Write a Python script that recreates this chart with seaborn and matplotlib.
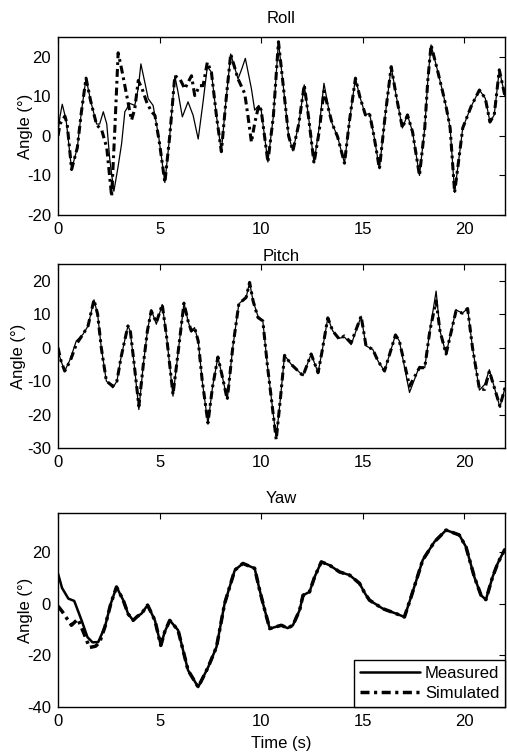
import numpy as np
import pandas as pd
import matplotlib
matplotlib.use("Agg")
import matplotlib.pyplot as plt
import seaborn as sns

# ---------------- data ----------------
# Roll
roll_meas_t = [0, 0.1, 0.21, 0.4, 0.67, 0.95, 1.15, 1.38, 1.6, 1.9, 2.05, 2.23, 2.4, 2.55, 2.75, 2.95, 3.13, 3.29, 3.54, 3.78, 3.95, 4.08, 4.27, 4.44, 4.68, 4.95, 5.26, 5.5, 5.75, 5.91, 6.12, 6.4, 6.65, 6.9, 7.14, 7.35, 7.55, 7.8, 8.04, 8.25, 8.5, 8.86, 9.05, 9.22, 9.52, 9.68, 9.88, 10.0, 10.33, 10.6, 10.85, 11.1, 11.35, 11.56, 11.85, 12.12, 12.35, 12.6, 12.85, 13.09, 13.35, 13.5, 13.76, 14.1, 14.35, 14.64, 14.85, 15.13, 15.33, 15.55, 15.82, 16.1, 16.4, 16.65, 16.95, 17.2, 17.45, 17.79, 18.05, 18.2, 18.36, 18.69, 18.93, 19.1, 19.3, 19.52, 19.75, 19.92, 20.33, 20.74, 21.03, 21.26, 21.47, 21.72, 22.0]
roll_meas_v = [1, 5, 8, 4, -8.5, -3, 6, 14.6, 9, 3, 3, 6.1, 3, -6, -14, -8, -2, 6.1, 8.2, 7.7, 12, 18.2, 13.6, 9.4, 7.7, 0, -11.8, 0, 15.2, 11, 4.8, 8.6, 5.2, -0.8, 8.6, 17.5, 16.1, 5, -4, 8, 20.7, 14.4, 17, 19.6, 11.9, 6.5, 7.7, 6.5, -6.6, 5, 23.8, 12, 0, -3.8, 3, 12.9, 4, -6.9, 2, 13.3, 6, 3, -0.2, -6.9, 4, 14.6, 10, 5.3, 5.7, 0, -8.3, 5, 17.5, 10, 2, 5.3, 1, -10, 2, 14, 23, 16.3, 11.2, 7.4, 2, -14.3, -5, 2, 7.4, 11.6, 9.5, 3.5, 5.3, 16.7, 10]
roll_sim_t = [0, 0.1, 0.34, 0.45, 0.67, 0.95, 1.15, 1.38, 1.6, 1.9, 2.15, 2.4, 2.64, 2.8, 2.96, 3.13, 3.29, 3.54, 3.62, 3.78, 3.95, 4.14, 4.36, 4.6, 4.77, 5.0, 5.26, 5.5, 5.75, 6.0, 6.24, 6.57, 6.73, 6.98, 7.14, 7.35, 7.55, 7.8, 8.04, 8.25, 8.5, 8.86, 9.19, 9.35, 9.52, 9.68, 9.88, 10.0, 10.33, 10.6, 10.85, 11.1, 11.35, 11.56, 11.85, 12.12, 12.35, 12.6, 12.85, 13.09, 13.35, 13.5, 13.76, 14.1, 14.35, 14.64, 14.85, 15.13, 15.33, 15.55, 15.82, 16.1, 16.4, 16.65, 16.95, 17.2, 17.45, 17.79, 18.05, 18.2, 18.36, 18.69, 18.93, 19.1, 19.3, 19.52, 19.75, 19.92, 20.33, 20.74, 21.03, 21.26, 21.47, 21.72, 22.0]
roll_sim_v = [0, 3, 5, 3, -8.5, -3, 6, 14.6, 9, 2.8, 1.5, -3, -15.3, 2, 21, 16.9, 12.7, 6, 4, 6.9, 14, 11.9, 8.6, 6.1, 5.2, -2, -11.8, 0, 15.2, 14.4, 11.9, 15.2, 10.2, 12.7, 12.7, 18.6, 16.1, 5, -4, 8, 20.7, 14.4, 10.7, 5, -1.6, 3.2, 7.7, 6.5, -6.6, 5, 23.8, 12, 0, -3.8, 3, 12.9, 4, -6.9, 1, 11.3, 6, 3, -0.2, -6.9, 4, 14.6, 10, 5.3, 5.7, 0, -8.3, 5, 17.5, 10, 2, 5.3, 1, -10, 2, 14, 23, 16.3, 11.2, 7.4, 2, -14.3, -5, 2, 7.4, 11.6, 9.5, 3.5, 5.3, 16.7, 10]

# Pitch
pitch_t = [0, 0.15, 0.33, 0.6, 0.9, 1.23, 1.48, 1.77, 1.95, 2.13, 2.38, 2.7, 2.9, 3.1, 3.44, 3.55, 3.75, 3.98, 4.2, 4.4, 4.59, 4.84, 5.13, 5.35, 5.66, 5.9, 6.2, 6.4, 6.56, 6.72, 6.9, 7.1, 7.38, 7.6, 7.87, 8.1, 8.33, 8.6, 8.9, 9.26, 9.43, 9.6, 9.84, 10.08, 10.3, 10.74, 10.95, 11.15, 11.48, 12.06, 12.46, 12.8, 13.0, 13.28, 13.52, 13.85, 14.09, 14.43, 14.92, 15.16, 15.49, 15.75, 16.07, 16.61, 16.8, 17.3, 17.79, 18.05, 18.3, 18.61, 18.8, 19.1, 19.59, 19.9, 20.16, 20.4, 20.74, 21.0, 21.23, 21.75, 22.0]
pitch_meas_v = [-1, -4, -7, -3.5, 2, 4, 6.5, 14.3, 10, 0, -10, -12, -10, -3, 6.5, 5, -5, -18.5, -5, 5, 11.3, 7, 12.9, 3, -14.5, -2, 13.3, 8, 4.7, 6, 2, -10, -22.8, -12, -2.8, -9, -15.5, 0, 13.1, 15, 19.5, 14, 9.4, 8, -5, -27.2, -15, -2.3, -5, -8.4, -1.9, -7.5, -1, 8.9, 5, 2.8, 3.2, 0.9, 9.4, 0.5, -0.5, -4, -7, 3.8, 2, -13.4, -5.6, -6, 5, 16.9, 5, -1.9, 11.3, 10.3, 11.7, 0, -12.7, -11, -6.6, -17.8, -12]
pitch_sim_v = [0, -4, -7, -4, 1, 4, 6.5, 14.3, 10, 0, -10, -11.5, -10, -3, 6.5, 5.5, -5, -17.5, -5, 5, 11, 7.5, 12.9, 3, -14, -2, 13.3, 8, 5, 6, 2, -10, -22.5, -12, -2.8, -9, -15.5, 0, 13.1, 15, 19.5, 14, 9, 8, -5, -27.5, -15, -2.3, -5, -8.4, -1.9, -7.5, -1, 8.9, 5, 2.5, 3.5, 1.5, 9.4, 0.5, -0.5, -4, -7, 3.8, 2, -11.5, -6, -6, 5, 14, 5, -1.9, 11, 10.3, 11.7, 0, -12.3, -12.5, -7, -17.5, -12]

# Yaw
yaw_meas_t = [0, 0.2, 0.51, 0.8, 1.16, 1.45, 1.7, 1.98, 2.31, 2.6, 2.88, 3.21, 3.45, 3.7, 3.9, 4.11, 4.41, 4.77, 5.06, 5.25, 5.5, 5.91, 6.4, 6.9, 7.39, 7.8, 8.2, 8.7, 9.1, 9.68, 9.9, 10.09, 10.42, 10.99, 11.3, 11.56, 11.89, 12.06, 12.38, 12.63, 12.96, 13.37, 13.86, 14.35, 14.84, 15.1, 15.33, 15.99, 16.64, 17.05, 17.38, 17.95, 18.53, 18.8, 19.1, 19.75, 20.08, 20.49, 20.82, 21.06, 21.39, 21.64, 21.89, 22.0]
yaw_meas_v = [11.6, 6, 1.9, 1, -6.5, -13, -15, -14.9, -9, 0, 6.4, 1.3, -4, -6.5, -5, -3.9, -0.6, -6.5, -16.2, -11, -6.5, -10.3, -25.8, -32.3, -24.6, -16.8, 0, 12.9, 15.5, 13.6, 6, 0, -9.7, -8.4, -9.5, -8.4, -2.6, 3.2, 4.5, 10.3, 16.1, 14.8, 12.2, 11, 7.8, 4, 1.3, -2, -3.9, -5.2, 2.6, 16.8, 23.9, 26, 28.4, 26.5, 21.9, 10.3, 3.2, 1.5, 10.3, 15.5, 19.4, 21]
yaw_sim_t = [0, 0.2, 0.5, 0.66, 0.98, 1.3, 1.55, 1.85, 2.05, 2.31, 2.6, 2.88, 3.21, 3.45, 3.7, 3.9, 4.11, 4.41, 4.77, 5.06, 5.25, 5.5, 5.91, 6.4, 6.9, 7.39, 7.8, 8.2, 8.7, 9.1, 9.68, 9.9, 10.09, 10.42, 10.99, 11.3, 11.56, 11.89, 12.06, 12.38, 12.63, 12.96, 13.37, 13.86, 14.35, 14.84, 15.1, 15.33, 15.99, 16.64, 17.05, 17.38, 17.95, 18.53, 18.8, 19.1, 19.75, 20.08, 20.49, 20.82, 21.06, 21.39, 21.64, 21.89, 22.0]
yaw_sim_v = [-1, -3, -6.5, -8.4, -6, -12, -17, -16.5, -15, -9, 0, 6.4, 1.3, -4, -6.5, -5, -3.9, -0.6, -6.5, -16.2, -11, -6.5, -10.3, -25.8, -32.3, -24.6, -16.8, 0, 12.9, 15.5, 13.6, 6, 0, -9.7, -8.4, -9.5, -8.4, -2.6, 3.2, 4.5, 10.3, 16.1, 14.8, 12.2, 11, 7.8, 4, 1.3, -2, -3.9, -5.2, 2.6, 16.8, 23.9, 26, 28.4, 26.5, 21.9, 10.3, 3.2, 1.5, 10.3, 15.5, 19.4, 21]

titles = ["Roll", "Pitch", "Yaw"]
ylims = [(-20, 25), (-30, 25), (-40, 35)]
yticks = [[-20, -10, 0, 10, 20], [-30, -20, -10, 0, 10, 20], [-40, -20, 0, 20]]
xticks = [0, 5, 10, 15, 20]
legend_labels = ["Measured", "Simulated"]

# ---------------- figure ----------------
sns.set_style("white")
plt.rcParams["font.family"] = ["Liberation Sans", "DejaVu Sans"]
plt.rcParams["font.size"] = 12
plt.rcParams["axes.unicode_minus"] = False
plt.rcParams["text.color"] = "black"
plt.rcParams["axes.labelcolor"] = "black"
plt.rcParams["axes.titlecolor"] = "black"
plt.rcParams["legend.labelcolor"] = "black"

W, H = 507, 756
fig = plt.figure(figsize=(W / 100, H / 100), dpi=100)

def rect(l, r, t, b):
    return [l / W, 1 - b / H, (r - l) / W, (b - t) / H]

axes = [fig.add_axes(rect(58, 505, 37, 215)),
        fig.add_axes(rect(58, 505, 264, 448)),
        fig.add_axes(rect(58, 505, 513, 707))]

series = [
    (roll_meas_t, roll_meas_v, roll_sim_t, roll_sim_v, 0.9, 2.2),
    (pitch_t, pitch_meas_v, pitch_t, pitch_sim_v, 0.9, 2.2),
    (yaw_meas_t, yaw_meas_v, yaw_sim_t, yaw_sim_v, 1.8, 2.5),
]
pads = [10, 2, 7]
label_x = [-0.056, -0.072, -0.056]
dd = (0, (2.6, 1.3, 0.9, 1.3))

for i, ax in enumerate(axes):
    mt, mv, st, sv, mlw, slw = series[i]
    dfm = pd.DataFrame({"t": mt, "v": mv})
    dfs = pd.DataFrame({"t": st, "v": sv})
    sns.lineplot(data=dfm, x="t", y="v", ax=ax, color="black", linewidth=mlw,
                 estimator=None, sort=False, label=legend_labels[0])
    sns.lineplot(data=dfs, x="t", y="v", ax=ax, color="black", linewidth=slw,
                 linestyle=dd, estimator=None, sort=False, label=legend_labels[1])
    ax.set_xlim(0, 22)
    ax.set_ylim(*ylims[i])
    ax.set_xticks(xticks)
    ax.set_yticks(yticks[i])
    ax.set_xlabel("")
    ax.set_ylabel("Angle (°)", fontsize=12, color="black")
    ax.yaxis.set_label_coords(label_x[i], 0.5)
    ax.set_title(titles[i], fontsize=12, pad=pads[i], color="black")
    ax.tick_params(direction="in", length=4, width=0.8, top=True, right=True,
                   labelsize=12, pad=5, colors="black")
    for s in ax.spines.values():
        s.set_visible(True)
        s.set_color("black")
        s.set_linewidth(1.0)
    if i < 2:
        leg = ax.get_legend()
        if leg is not None:
            leg.remove()

axes[2].set_xlabel("Time (s)", fontsize=12, labelpad=5, color="black")
leg = axes[2].legend(loc="lower right", borderaxespad=0, fancybox=False,
                     edgecolor="black", framealpha=1, fontsize=12,
                     handlelength=3.6, handletextpad=0.3, borderpad=0.35,
                     labelspacing=0.3, labelcolor="black")
leg.get_frame().set_linewidth(1.0)

fig.savefig("out.png", dpi=100)
